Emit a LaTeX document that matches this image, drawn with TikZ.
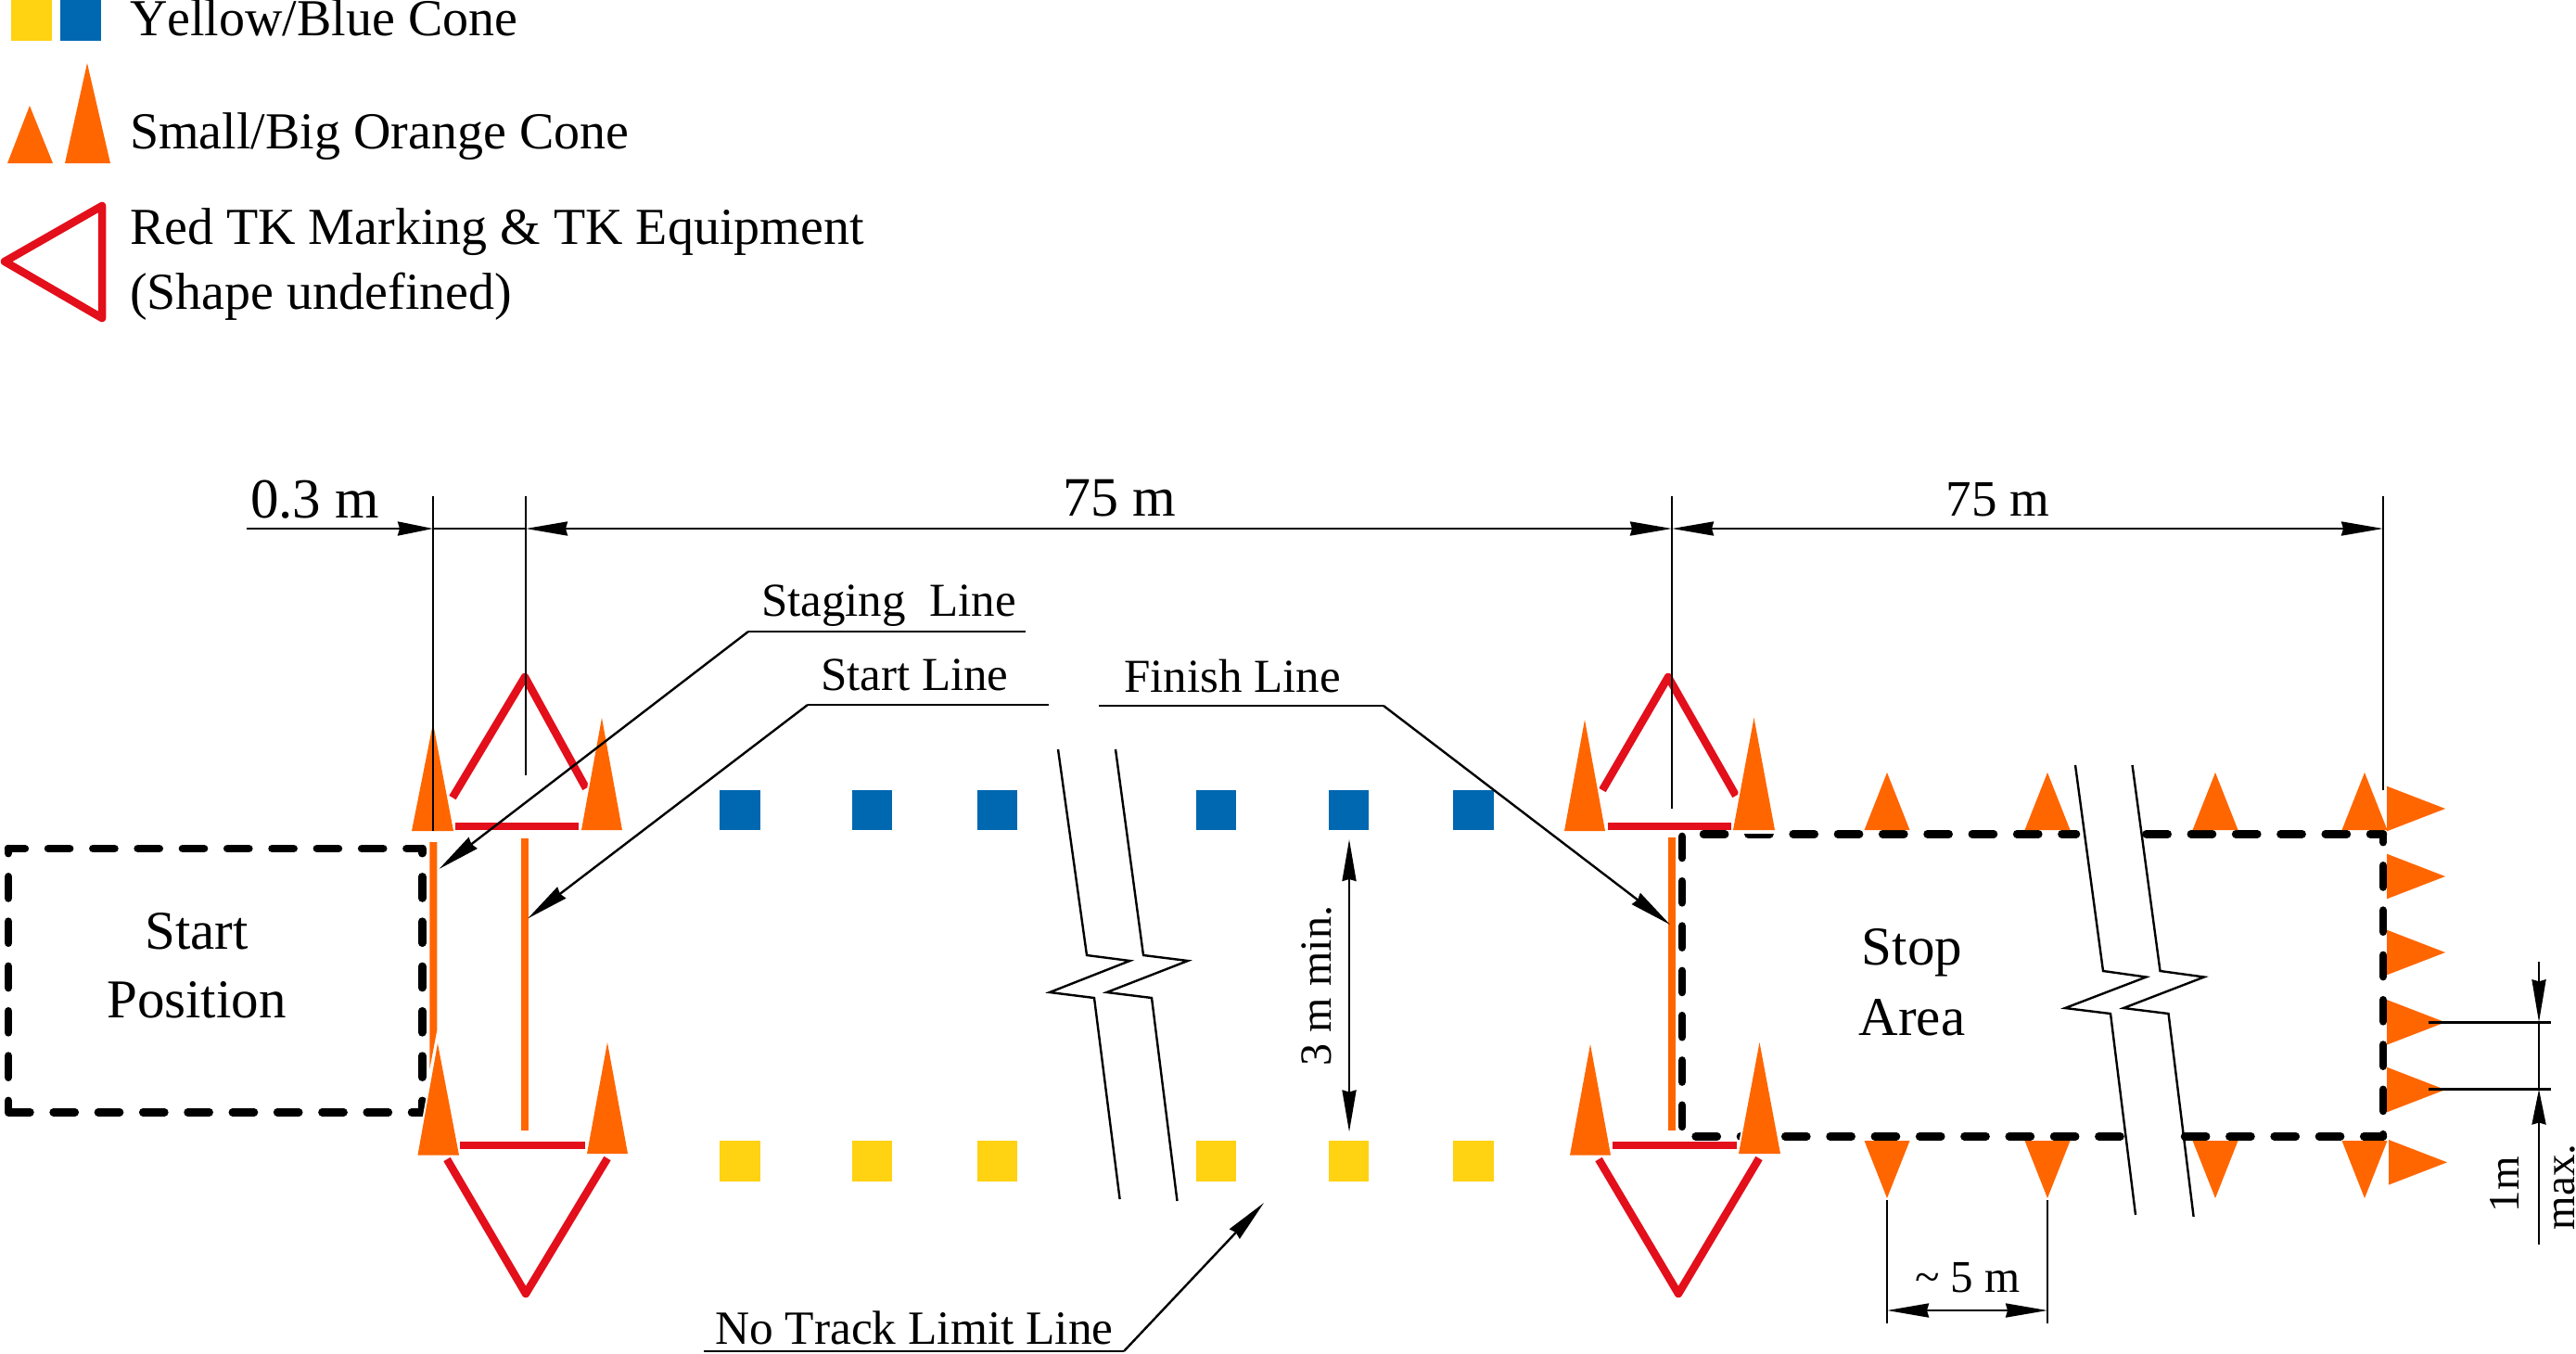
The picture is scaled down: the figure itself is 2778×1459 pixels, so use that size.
\documentclass[tikz,border=0pt]{standalone}
\usepackage{fontspec}
\setmainfont[Kerning=Off]{Liberation Serif}
\usetikzlibrary{arrows.meta}
\definecolor{coneorange}{HTML}{FF6600}
\definecolor{tkred}{HTML}{E30F1B}
\definecolor{coneblue}{HTML}{0067B1}
\definecolor{coneyellow}{HTML}{FFD212}
\tikzset{
  txt/.style={anchor=base,inner sep=0pt,outer sep=0pt},
  fs/.style={font=\fontsize{#1}{#1}\selectfont},
  thin line/.style={draw=black,line width=2.4pt},
  dimarrow/.style={thin line,-{Stealth[length=46pt,width=15pt,inset=2pt]}},
  shortarrow/.style={thin line,-{Stealth[length=38pt,width=15pt,inset=2pt]}},
  dimboth/.style={thin line,{Stealth[length=45pt,width=15pt,inset=2pt]}-{Stealth[length=45pt,width=15pt,inset=2pt]}},
  tkline/.style={draw=tkred,line width=8.5pt,line join=round},
  orangeline/.style={draw=coneorange,line width=8pt},
  cone/.style={fill=coneorange},
  bigcone/.style={fill=coneorange,preaction={draw=white,line width=4pt,line join=round}},
  boxdash/.style={draw=black,line width=8.5pt,line cap=round,dash pattern=on 23.2pt off 25.1pt},
  blue sq/.style={fill=coneblue},
  yellow sq/.style={fill=coneyellow},
}
\begin{document}
\begin{tikzpicture}[x=1pt,y=-1pt]
\useasboundingbox (0,0) rectangle (2778,1459);
% Legend
\fill[yellow sq] (11.5,0) rectangle (56,44);
\fill[blue sq] (65,0) rectangle (109,44);
\fill[cone] (32,114) -- (57,176) -- (8,176) -- cycle;
\fill[cone] (94,68) -- (119,176) -- (70,176) -- cycle;
\draw[tkred,line width=8.5pt,line join=round] (110,222) -- (5,282) -- (110,343) -- cycle;
\node[txt,fs=56,anchor=base west] (lg1) at (140,38) {Yellow/Blue Cone};
\node[txt,fs=56,anchor=base west] (lg2) at (140,160) {Small/Big Orange Cone};
\node[txt,fs=56,anchor=base west] (lg3) at (140,263) {Red TK Marking \& TK Equipment};
\node[txt,fs=56,anchor=base west] (lg4) at (140,333) {(Shape undefined)};
% Break lines
\draw[thin line] (1141,808) -- (1172,1030) -- (1218.5,1036) -- (1132,1070) -- (1180,1076) -- (1207.6,1293);
\draw[thin line] (1203,808) -- (1233,1030) -- (1281,1036) -- (1193.6,1070) -- (1242,1076) -- (1269.5,1295);
\draw[thin line] (2238,825) -- (2268,1047) -- (2314.5,1053.5) -- (2227,1087) -- (2276,1093) -- (2303,1310);
\draw[thin line] (2299.5,825) -- (2329.5,1047) -- (2377,1053.5) -- (2290,1087) -- (2338.5,1093) -- (2365.6,1312);
% Squares
\foreach \a/\b in {776/820,919/962,1054/1097,1290/1333,1433/1476,1567/1611}{
  \fill[blue sq] (\a,852) rectangle (\b,895);
  \fill[yellow sq] (\a,1230) rectangle (\b,1274);
}
% TK red, start
\draw[tkline] (488,860) -- (566,730) -- (632,850);
\draw[tkline] (491,891) -- (624,891);
\draw[tkline] (496,1235) -- (631,1235);
\draw[tkline] (482,1250) -- (567,1395) -- (655,1249);
% TK red, finish
\draw[tkline] (1728,852) -- (1799,730) -- (1872,858);
\draw[tkline] (1734,891) -- (1867,891);
\draw[tkline] (1739,1235) -- (1873,1235);
\draw[tkline] (1724,1250) -- (1810,1395) -- (1897,1249);
% Orange lines
\fill[cone] (463.3,908) -- (471.3,908) -- (471.3,1110.7) -- (463.3,1153) -- cycle;
\draw[orangeline] (566,904) -- (566,1219);
\draw[orangeline] (1803.3,903.3) -- (1803.3,1219.3);
% Start box
\draw[boxdash,dash phase=5.3] (9,915) -- (455.3,915);
\draw[boxdash] (9.3,1199.3) -- (455.3,1199.3);
\draw[boxdash,dash phase=18] (9,915) -- (9,1199.3);
\draw[boxdash,dash phase=18] (455.3,915) -- (455.3,1199.3);
\node[txt,fs=59] (sp1) at (212,1023) {Start};
\node[txt,fs=59] (sp2) at (212,1097) {Position};
% Stop box
\draw[boxdash] (1837,899.3) -- (2239,899.3);
\draw[boxdash] (2314.5,899.3) -- (2570,899.3);
\draw[boxdash] (1828.6,1225.3) -- (2287,1225.3);
\draw[boxdash] (2356,1225.3) -- (2570,1225.3);
\draw[boxdash] (1814,901.9) -- (1814,1215);
\draw[boxdash,dash phase=14.3] (2570,899.3) -- (2570,1225.3);
\node[txt,fs=59] (sa1) at (2062,1040) {Stop};
\node[txt,fs=59] (sa2) at (2062,1116) {Area};
% Big cones
\fill[white] (1869,895) rectangle (1914,899);
\foreach \ax/\ay/\l/\r/\bb in {467/780/444/489/896,649/774/627/671/895,472/1125/450.5/495/1245.5,655/1124/633/677/1244,1709/776/1687/1731/896,1891.5/774/1869/1914/895,1715/1126/1693/1737/1245.5,1897.5/1124/1875/1920/1244}{
  \path[bigcone] (\ax,\ay) -- (\r,\bb) -- (\l,\bb) -- cycle;
}
% Small cones top and bottom
\foreach \c in {2035,2208,2389,2550}{
  \fill[cone] (\c,833) -- ({\c+24.5},895) -- ({\c-24.5},895) -- cycle;
  \fill[cone] (\c,1292) -- ({\c+24.5},1230) -- ({\c-24.5},1230) -- cycle;
}
% Right cones
\foreach \c/\bx in {872/2574,945/2574,1027/2574,1102.3/2574,1175/2574,1253.3/2576}{
  \fill[cone] (\bx,\c-24.3) -- ({\bx+63},\c) -- (\bx,\c+24.3) -- cycle;
}
% Dimensions
\coordinate (d0) at (266,570);
\coordinate (d1) at (467,570);
\coordinate (d2) at (567,570);
\coordinate (d3) at (1803,570);
\coordinate (d4) at (2570,570);
\draw[thin line] (467,535) -- (467,896);
\draw[thin line] (567,535) -- (567,836);
\draw[thin line] (1803,535) -- (1803,872);
\draw[thin line] (2570,535) -- (2570,852);
\draw[thin line] (d1) -- (d2);
\draw[shortarrow] (d0) -- (d1);
\draw[dimboth] (d2) -- (d3);
\draw[dimboth] (d3) -- (d4);
\node[txt,fs=61,anchor=base west] (t03) at (270,558) {0.3 m};
\node[txt,fs=60] (t75a) at (1207,556) {75 m};
\node[txt,fs=55] (t75b) at (2154.5,556) {75 m};
% Leaders
\coordinate (st0) at (1106,681);
\coordinate (st1) at (807,681);
\coordinate (st2) at (473.5,937);
\draw[thin line] (st0) -- (st1);
\draw[dimarrow] (st1) -- (st2);
\node[txt,fs=51,anchor=base west] (staging) at (821,664) {Staging\ \ Line};
\coordinate (sl0) at (1130.5,760);
\coordinate (sl1) at (871,760);
\coordinate (sl2) at (569,990.5);
\draw[thin line] (sl0) -- (sl1);
\draw[dimarrow] (sl1) -- (sl2);
\node[txt,fs=51,anchor=base west] (startl) at (885,744) {Start Line};
\coordinate (fl0) at (1185,761);
\coordinate (fl1) at (1492,761);
\coordinate (fl2) at (1801,997);
\draw[thin line] (fl0) -- (fl1);
\draw[dimarrow] (fl1) -- (fl2);
\node[txt,fs=51,anchor=base west] (finishl) at (1212,746) {Finish Line};
\coordinate (nt0) at (759,1457);
\coordinate (nt1) at (1212,1457);
\coordinate (nt2) at (1363,1297);
\draw[thin line] (nt0) -- (nt1);
\draw[dimarrow] (nt1) -- (nt2);
\node[txt,fs=51.4,anchor=base west] (notrack) at (771,1449) {No Track Limit Line};
% 3 m min
\coordinate (m3a) at (1455,905);
\coordinate (m3b) at (1455,1220.5);
\draw[dimboth] (m3a) -- (m3b);
\node[txt,fs=48,rotate=90] (m3t) at (1435,1063) {3 m min.};
% 5 m
\coordinate (f5a) at (2035,1413);
\coordinate (f5b) at (2208,1413);
\draw[thin line] (2035,1294) -- (2035,1426.5);
\draw[thin line] (2208,1294) -- (2208,1426.5);
\draw[dimboth] (f5a) -- (f5b);
\node[txt,fs=49] (t5) at (2122,1393) {\char"7E\ 5 m};
% 1 m max
\coordinate (e1a) at (2619,1102.3);
\coordinate (e1b) at (2750.7,1102.3);
\coordinate (e2a) at (2619,1174.5);
\coordinate (e2b) at (2750.7,1174.5);
\draw[thin line] (e1a) -- (e1b);
\draw[thin line] (e2a) -- (e2b);
\coordinate (mxa) at (2738,1037);
\coordinate (mxb) at (2738,1102.3);
\coordinate (mxc) at (2738,1174.5);
\coordinate (mxd) at (2738,1341.7);
\draw[dimarrow] (mxa) -- (mxb);
\draw[thin line] (mxb) -- (mxc);
\draw[shortarrow] (mxd) -- (mxc);
\node[txt,fs=47,rotate=90] (t1m) at (2716.7,1277) {1m};
\node[txt,fs=47,rotate=90] (tmax) at (2776.5,1280) {max.};
\end{tikzpicture}
\end{document}
